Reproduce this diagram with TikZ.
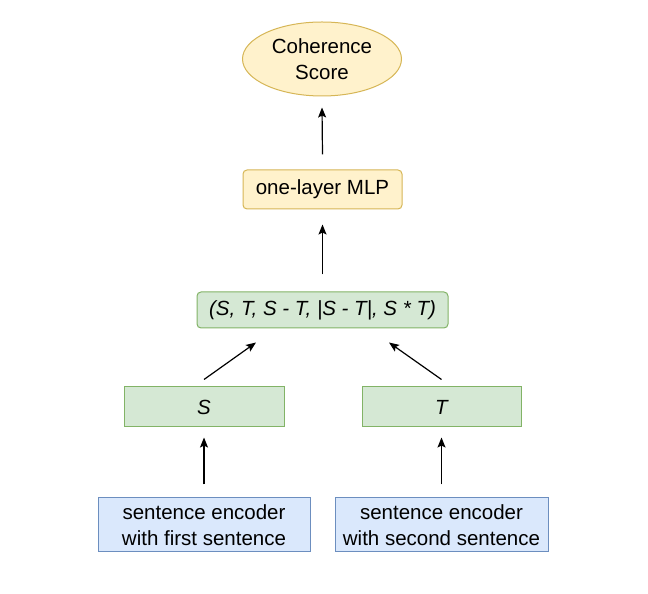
\documentclass[tikz,border=0pt]{standalone}
\usepackage{fontspec}
\setmainfont{Liberation Sans}
\usepackage{tikz}
\usepackage{xcolor}
\usetikzlibrary{arrows.meta, shapes.geometric, positioning}
\definecolor{yfill} {HTML}{FFF2CC}
\definecolor{ydraw} {HTML}{D6B656}
\definecolor{gfill} {HTML}{D5E8D4}
\definecolor{gdraw} {HTML}{82B366}
\definecolor{bfill} {HTML}{DAE8FC}
\definecolor{bdraw} {HTML}{6C8EBF}
\newcommand{\diafont}{\fontsize{20.5}{26}\selectfont}
\tikzset{
  % Yellow output ellipse
  YE/.style={ellipse,draw=ydraw,fill=yfill,minimum width=159pt,
             minimum height=74pt,inner sep=0pt,align=center,line width=1pt},
  % Yellow MLP box
  YB/.style={rectangle,rounded corners=4pt,draw=ydraw,fill=yfill,
             minimum width=#1,minimum height=39pt,align=center,
             inner sep=0pt,line width=1pt},
  YB/.default=159pt,
  % Green vector box
  GB/.style={rectangle,draw=gdraw,fill=gfill,minimum width=#1,
             minimum height=40pt,align=center,inner sep=0pt,
             line width=1pt,font=\diafont\itshape},
  GB/.default=160pt,
  % Blue encoder box
  BB/.style={rectangle,draw=bdraw,fill=bfill,minimum width=#1,
             minimum height=54pt,align=center,inner sep=0pt,line width=1pt},
  BB/.default=212pt,
  % Arrows
  Arr/.style={-{Stealth[length=10pt,width=8pt,inset=2pt]},line width=1.2pt,color=black},
}

\begin{document}
\begin{tikzpicture}[x=1pt,y=1pt,
    every node/.style={font=\diafont}]
      \useasboundingbox (0,0) rectangle (648,594);
      \node[YE] at (322,535) (score) {Coherence\\Score};
      \node[YB] at (322.5,404.5) (mlp) {one-layer MLP};
      \draw[Arr] ([yshift=15pt]mlp.north) -- ([yshift=-11pt]score.south);
      \node[GB=251pt,minimum height=36pt,rounded corners=4pt]
            at (322.5,284) (tup) {(S, T, S - T, |S - T|, S * T)};
      \draw[Arr] ([yshift=17pt]tup.north) -- ([yshift=-15pt]mlp.south);
      \node[GB] at (204,187) (s) {S};
      \node[GB=159pt] at (441.5,187) (t) {T};
      \draw[Arr] ([yshift=7pt]s.north) -- ([xshift=-66.5pt,yshift=-14pt]tup.south);
      \draw[Arr] ([yshift=7pt]t.north) -- ([xshift=66.5pt,yshift=-14pt]tup.south);
      \node[BB] at (204,69) (enc1) {sentence encoder\\with first sentence};
      \node[BB=213pt] at (441.5,69) (enc2) {sentence encoder\\with second sentence};
      \draw[Arr] ([yshift=13pt]enc1.north) -- ([yshift=-10pt]s.south);
      \draw[Arr] ([yshift=13pt]enc2.north) -- ([yshift=-10pt]t.south);
    \end{tikzpicture}
\end{document}
